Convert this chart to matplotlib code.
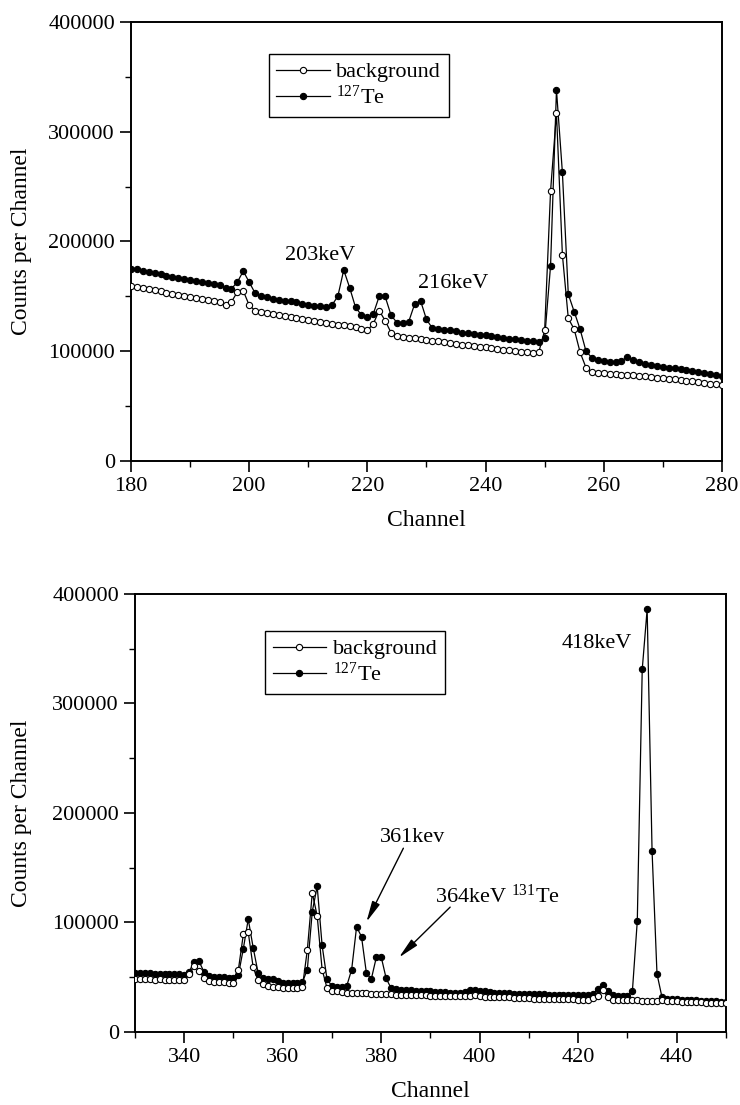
import matplotlib
matplotlib.use("Agg")
import matplotlib.pyplot as plt
from matplotlib.ticker import MultipleLocator
import numpy as np

plt.rcParams["font.family"] = ["Liberation Serif", "DejaVu Serif"]
plt.rcParams["mathtext.fontset"] = "custom"
plt.rcParams["mathtext.rm"] = "Liberation Serif"
plt.rcParams["mathtext.it"] = "Liberation Serif:italic"

# ---------------------------------------------------------------------------
# Upper spectrum, channels 180..280
# ---------------------------------------------------------------------------
top_channels = np.arange(180, 281)

top_background = [
    159500, 158500, 157500, 156500, 155500, 154500, 153500, 152500, 151500, 150500,
    149500, 148500, 147500, 146500, 145500, 144500, 142500, 145000, 154000, 155000,
    142000, 137000, 136000, 135000, 134000, 133000, 132000, 131000, 130000, 129500,
    128500, 127500, 126500, 126000, 125000, 124000, 123500, 123000, 122000, 120500,
    119000, 125000, 137000, 128000, 117000, 114000, 113000, 112500, 112000, 111000,
    110000, 109500, 109000, 108000, 107500, 107000, 106000, 105500, 105000, 104000,
    103500, 103000, 102000, 101500, 101000, 100000, 99500, 99000, 98000, 99000,
    119000, 246000, 317000, 188000, 130000, 120000, 99000, 85000, 81000, 80500,
    80000, 79500, 79000, 78500, 78500, 78000, 77500, 77000, 76500, 76000,
    75500, 75000, 74500, 74000, 73000, 72500, 72000, 71000, 70500, 70000,
    69000,
]

top_te127 = [
    175000, 174500, 173500, 172500, 171000, 170000, 169000, 168000, 167000, 166000,
    165000, 164000, 163000, 162000, 161000, 160000, 158000, 157000, 163000, 173000,
    163000, 153000, 150000, 149000, 148000, 147000, 146000, 145500, 144500, 143500,
    142500, 141500, 141000, 140500, 142000, 150000, 174000, 158000, 140000, 133000,
    131000, 134000, 150000, 150000, 133000, 126000, 126000, 127000, 143000, 146000,
    129000, 121000, 120000, 119500, 119000, 118000, 117000, 116500, 116000, 115000,
    114500, 114000, 113000, 112000, 111500, 111000, 110000, 109500, 109000, 108500,
    112000, 178000, 338000, 263000, 152000, 136000, 120000, 100000, 94000, 92000,
    91000, 90000, 90000, 91000, 95000, 92000, 90000, 88000, 87500, 87000,
    86000, 85000, 84500, 84000, 83000, 82000, 81000, 80000, 79000, 78500,
    77500,
]

# ---------------------------------------------------------------------------
# Lower spectrum, channels 330..450
# ---------------------------------------------------------------------------
bottom_channels = np.arange(330, 451)

bottom_background = [
    48500, 48500, 48000, 48000, 47500, 48000, 47500, 47000, 47000, 47000,
    47000, 53000, 60000, 56000, 49000, 46500, 46000, 46000, 45500, 45000,
    45000, 57000, 89000, 91000, 59000, 47000, 43500, 42000, 41500, 41000,
    40500, 40500, 40000, 40000, 41000, 75000, 127000, 106000, 57000, 40000,
    37500, 37000, 36500, 36000, 36000, 35500, 35500, 35500, 35000, 35000,
    34500, 34500, 34500, 34000, 34000, 34000, 34000, 33500, 33500, 33500,
    33000, 33000, 33000, 33000, 32500, 32500, 32500, 32500, 33000, 34000,
    32500, 32000, 32000, 32000, 31500, 31500, 31500, 31000, 31000, 31000,
    31000, 30500, 30500, 30500, 30500, 30000, 30000, 30000, 30000, 30000,
    29500, 29500, 29500, 31000, 33000, 38000, 32000, 29500, 29000, 29000,
    29000, 29000, 29000, 28500, 28500, 28500, 28500, 29000, 28500, 28000,
    28000, 27500, 27500, 27000, 27000, 27000, 26500, 26500, 26500, 26000,
    26000,
]

bottom_te127 = [
    54000, 53800, 53600, 53400, 53200, 53000, 53300, 53000, 52800, 52500,
    52000, 55000, 64000, 64500, 55000, 51000, 50500, 50500, 50000, 49500,
    49000, 52000, 76000, 103000, 77000, 54000, 49000, 48500, 48000, 46500,
    45000, 44500, 44500, 44500, 45500, 57000, 110000, 133000, 79000, 48000,
    42000, 41500, 41500, 42000, 57000, 96000, 87000, 53500, 48500, 68000,
    68500, 49000, 40000, 39000, 38500, 38000, 38000, 37500, 37500, 37000,
    37000, 36800, 36500, 36500, 36000, 36000, 36000, 36500, 38000, 38500,
    37500, 37000, 36500, 36000, 36000, 35500, 35500, 35000, 35000, 35000,
    35000, 34500, 34500, 34500, 34000, 34000, 34000, 34000, 34000, 33500,
    33500, 33500, 33500, 35000, 39000, 42500, 37500, 34000, 33000, 33000,
    33000, 37000, 101500, 331000, 386000, 165000, 53000, 32000, 30500, 30000,
    30000, 29500, 29500, 29000, 29000, 28500, 28500, 28000, 28000, 27500,
    27000,
]

SERIES_LABELS = ["background", r"$^{127}$Te"]
FS = 16


def style_axes(ax, xlim, xmajor):
    ax.set_xlim(*xlim)
    ax.set_ylim(0, 400000)
    ax.xaxis.set_major_locator(MultipleLocator(xmajor))
    ax.xaxis.set_minor_locator(MultipleLocator(xmajor / 2))
    ax.yaxis.set_major_locator(MultipleLocator(100000))
    ax.yaxis.set_minor_locator(MultipleLocator(50000))
    ax.tick_params(which="major", direction="out", length=8, width=1.2,
                   labelsize=FS, top=False, right=False)
    ax.tick_params(which="minor", direction="out", length=4, width=1.0,
                   top=False, right=False)
    for sp in ax.spines.values():
        sp.set_linewidth(1.4)
    ax.set_xlabel("Channel", fontsize=FS + 1, labelpad=10)
    ax.set_ylabel("Counts per Channel", fontsize=FS + 1)


def draw_spectrum(ax, channels, background, te127, legend_anchor):
    ax.plot(channels, background, "-o", color="black", lw=0.9, ms=4.5,
            mfc="white", mec="black", mew=0.8, label=SERIES_LABELS[0], zorder=3)
    ax.plot(channels, te127, "-o", color="black", lw=0.9, ms=4.5,
            mfc="black", mec="black", mew=0.8, label=SERIES_LABELS[1], zorder=2)
    leg = ax.legend(loc="upper left", bbox_to_anchor=legend_anchor, borderaxespad=0,
                    fontsize=FS, frameon=True, fancybox=False, framealpha=1,
                    edgecolor="black", handlelength=2.4, handletextpad=0.3,
                    labelspacing=0.15, borderpad=0.35)
    leg.get_frame().set_linewidth(1.0)


fig = plt.figure(figsize=(7.4, 11.05), dpi=100)

ax1 = fig.add_axes([0.177, 0.5828, 0.7986, 0.3973])
draw_spectrum(ax1, top_channels, top_background, top_te127, (0.233, 0.927))
style_axes(ax1, (180, 280), 20)
ax1.yaxis.set_label_coords(-0.168, 0.5)
ax1.text(212, 183000, "203keV", fontsize=FS, ha="center", va="baseline")
ax1.text(234.5, 157500, "216keV", fontsize=FS, ha="center", va="baseline")

ax2 = fig.add_axes([0.1824, 0.0661, 0.7986, 0.3964])
draw_spectrum(ax2, bottom_channels, bottom_background, bottom_te127, (0.22, 0.9155))
style_axes(ax2, (330, 450), 20)
ax2.yaxis.set_label_coords(-0.175, 0.5)
ax2.text(431, 350500, "418keV", fontsize=FS, ha="right", va="baseline")
ax2.text(386.3, 173500, "361kev", fontsize=FS, ha="center", va="baseline")
ax2.text(390.9, 118000, r"364keV $^{131}$Te", fontsize=FS, ha="left", va="baseline")

arrow = dict(arrowstyle="-|>,head_length=0.9,head_width=0.18", color="black",
             lw=1.0, shrinkA=0, shrinkB=0, mutation_scale=14)
ax2.annotate("", xy=(377.0, 100500), xytext=(384.5, 167800), arrowprops=arrow)
ax2.annotate("", xy=(383.6, 68000), xytext=(394.0, 114000), arrowprops=arrow)

fig.savefig("out.png", dpi=100)
